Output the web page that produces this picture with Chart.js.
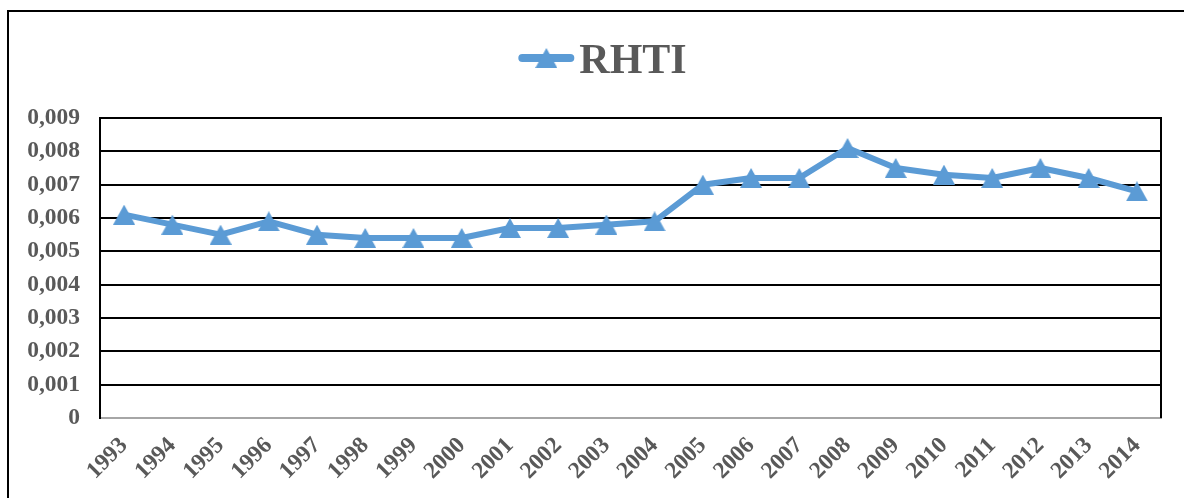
<!DOCTYPE html>
<html>
<head>
<meta charset="utf-8">
<script src="https://cdn.jsdelivr.net/npm/chart.js@4/dist/chart.umd.min.js"></script>
<style>
  html, body { margin: 0; padding: 0; background: #ffffff; }
  canvas { display: block; }
</style>
</head>
<body>
<canvas id="chart" width="1184" height="498"></canvas>
<script>
// Series data
const years = ['1993', '1994', '1995', '1996', '1997', '1998', '1999', '2000', '2001', '2002', '2003',
               '2004', '2005', '2006', '2007', '2008', '2009', '2010', '2011', '2012', '2013', '2014'];
const rhti = [0.0061, 0.0058, 0.0055, 0.0059, 0.0055, 0.0054, 0.0054, 0.0054, 0.0057, 0.0057, 0.0058,
              0.0059, 0.0070, 0.0072, 0.0072, 0.0081, 0.0075, 0.0073, 0.0072, 0.0075, 0.0072, 0.0068];
const seriesName = 'RHTI';

// Value axis labels (decimal comma)
const yTickLabels = ['0', '0,001', '0,002', '0,003', '0,004', '0,005', '0,006', '0,007', '0,008', '0,009'];

const BLUE = '#5b9bd5';
const TEXT_GREY = '#595959';
const FONT = '"Liberation Serif", "Times New Roman", serif';

// Triangle marker sprite, centred on its bounding box
function triangleSprite(w, h, color) {
  const c = document.createElement('canvas');
  c.width = w; c.height = h;
  const g = c.getContext('2d');
  g.fillStyle = color;
  g.beginPath();
  g.moveTo(w / 2, 0);
  g.lineTo(w, h);
  g.lineTo(0, h);
  g.closePath();
  g.fill();
  return c;
}
const marker = triangleSprite(22, 20, BLUE);

// Outer frame, right plot border and the legend
const decorations = {
  id: 'decorations',
  afterDraw(chart) {
    const { ctx, chartArea } = chart;
    const frame = { left: 8, top: 11, right: 1197 };
    ctx.save();
    ctx.strokeStyle = '#000';
    ctx.lineWidth = 2;
    ctx.beginPath();
    ctx.moveTo(frame.left, chart.height + 2);
    ctx.lineTo(frame.left, frame.top);
    ctx.lineTo(chart.width + 2, frame.top);
    ctx.stroke();

    // right edge of the plot area
    ctx.beginPath();
    ctx.moveTo(chartArea.right, chartArea.top - 1);
    ctx.lineTo(chartArea.right, chartArea.bottom);
    ctx.stroke();

    // legend: line sample with marker, then series name
    const ds = chart.data.datasets[0];
    ctx.font = 'bold 42px ' + FONT;
    const tw = ctx.measureText(ds.label).width;
    const sw = 56, gap = 5;
    const cx = (frame.left + frame.right) / 2;
    const x0 = cx - (sw + gap + tw) / 2;
    const ly = 58;
    ctx.strokeStyle = BLUE;
    ctx.lineWidth = 8;
    ctx.lineCap = 'round';
    ctx.beginPath();
    ctx.moveTo(x0 + 4, ly);
    ctx.lineTo(x0 + sw - 4, ly);
    ctx.stroke();
    ctx.drawImage(marker, x0 + sw / 2 - marker.width / 2, ly - marker.height / 2);
    ctx.fillStyle = TEXT_GREY;
    ctx.textBaseline = 'alphabetic';
    ctx.textAlign = 'left';
    ctx.fillText(ds.label, x0 + sw + gap, 73);
    ctx.restore();
  }
};

new Chart(document.getElementById('chart'), {
  type: 'line',
  data: {
    labels: years,
    datasets: [{
      label: seriesName,
      data: rhti,
      borderColor: BLUE,
      backgroundColor: BLUE,
      borderWidth: 6,
      borderJoinStyle: 'round',
      borderCapStyle: 'round',
      tension: 0,
      fill: false,
      pointStyle: marker,
      pointRadius: 11,
      pointHoverRadius: 11
    }]
  },
  options: {
    responsive: false,
    animation: false,
    devicePixelRatio: 1,
    layout: { padding: { top: 118, right: 23, bottom: 0, left: 0 } },
    plugins: {
      legend: { display: false },
      tooltip: { enabled: false }
    },
    scales: {
      x: {
        offset: true,
        grid: { display: false, drawTicks: false },
        border: { display: true, color: '#a6a6a6', width: 2 },
        ticks: {
          autoSkip: false,
          minRotation: 45,
          maxRotation: 45,
          padding: 14,
          color: TEXT_GREY,
          font: { family: FONT, size: 23.5, weight: 'bold' }
        },
        afterFit(scale) { scale.height = 80; }
      },
      y: {
        min: 0,
        max: 0.009,
        ticks: {
          stepSize: 0.001,
          padding: 20,
          color: TEXT_GREY,
          font: { family: FONT, size: 23.5, weight: 'bold' },
          callback: (v) => yTickLabels[Math.round(v / 0.001)]
        },
        grid: {
          drawTicks: false,
          lineWidth: 2,
          color: (c) => (c.tick && c.tick.value === 0) ? 'rgba(0,0,0,0)' : '#000000'
        },
        border: { display: true, color: '#000000', width: 2 },
        afterFit(scale) { scale.width = 100; }
      }
    }
  },
  plugins: [decorations]
});
</script>
</body>
</html>
